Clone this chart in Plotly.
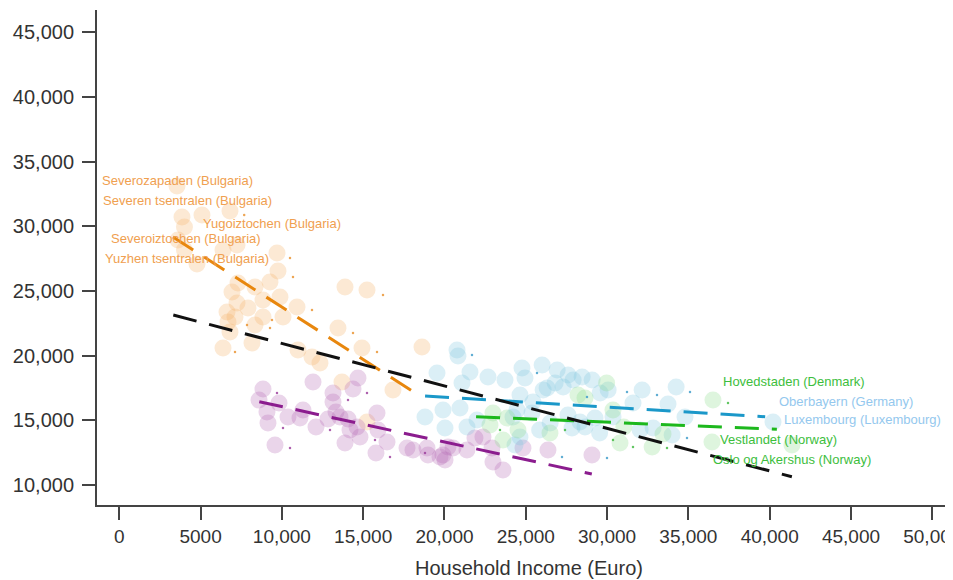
import plotly.graph_objects as go

# ---------------- data (Euro household income vs. value) ----------------
bg_income = [3549, 3856, 4009, 5086, 6808, 3610, 4009, 4779, 6378, 7239, 9699, 9760, 9268, 7300,
             8346, 13881, 15234, 6931, 9883, 8838, 7239, 7915, 10929, 6624, 7116, 8838, 10068, 8346,
             6685, 6808, 13450, 8161, 6378, 10990, 14926, 11851, 12343, 18616, 13696, 16832, 15234]
bg_value = [33113, 30716, 29943, 30871, 31180, 28939, 28166, 27083, 28166, 28552, 27934, 26542, 25692,
            25615, 25305, 25305, 25074, 24919, 24532, 24301, 24069, 23682, 23759, 23373, 22986, 22986,
            22986, 22368, 22600, 21827, 22136, 20977, 20590, 20436, 20590, 19894, 19431, 20667, 17962,
            17344, 14870]

pu_income = [8838, 8593, 9822, 9083, 9145, 10375, 11297, 11113, 9576, 11913, 12097, 13143, 13143, 14680,
             14373, 13327, 12835, 13573, 14065, 14188, 13881, 14803, 14619, 15849, 15910, 16464, 15787,
             17694, 18063, 18985, 19723, 20031, 20523, 18924, 19907, 21383, 21875, 22367, 22920, 22982,
             23597, 24827, 26364, 29070, 20215]
pu_value = [17421, 16571, 16339, 15643, 14793, 15256, 15798, 15179, 13092, 17962, 14483, 17112, 16416,
            18271, 17421, 15643, 15102, 15256, 15102, 14252, 13247, 13710, 14483, 15566, 14252, 13324,
            12474, 12860, 12706, 12319, 12164, 11933, 12860, 12860, 12319, 12706, 13633, 13710, 12860,
            11778, 11160, 12860, 12706, 12319, 12937]

bl_income = [20769, 20830, 19539, 21568, 21076, 22675, 23721, 24766, 24950, 26006, 26929, 27605, 27913,
             28466, 29081, 26314, 26806, 27298, 30065, 29573, 32156, 34247, 18801, 19908, 20954, 20031,
             21384, 21999, 24643, 25442, 24458, 25381, 28333, 27595, 27841, 28641, 29256, 30363, 31593,
             33745, 34791, 32033, 34001, 25852, 29542, 24335, 26068, 32833, 26499, 24643, 24213, 40204]
bl_value = [20436, 19972, 18658, 18735, 17885, 18348, 18117, 19044, 18271, 19276, 18890, 18503, 18117,
            18348, 18117, 17498, 17885, 17575, 17344, 17112, 17344, 17575, 15256, 15798, 15952, 14406,
            14483, 15025, 16957, 16416, 15798, 15566, 14870, 15411, 14406, 14483, 15179, 15256, 16339,
            16261, 15256, 14252, 13865, 14252, 14020, 13092, 17344, 14406, 14793, 13710, 15256, 14870]

gr_income = [29971, 28641, 28210, 30363, 22983, 22798, 23844, 24520, 23598, 26488, 30793, 32772, 33438,
             31029, 36512, 36451, 41370]
gr_value = [17885, 16725, 16957, 15798, 15566, 14638, 15179, 14252, 13479, 14020, 13247, 12937, 13942,
            14483, 16571, 13324, 13092]

# small jitter dots
bg_dot_x = [7682, 10498, 10683, 16218, 14373, 15849, 7854, 9391, 7116, 11851, 9268]
bg_dot_y = [30871, 27547, 26078, 24687, 21750, 20281, 22368, 22755, 20281, 23528, 22136]
pu_dot_x = [9699, 10068, 10498, 12958, 14065, 15234, 16648, 18801, 15726]
pu_dot_y = [17112, 14406, 12860, 14252, 16571, 17112, 12164, 12474, 13479]
bl_dot_x = [21691, 25688, 28763, 31223, 33068, 34913, 27225, 29993, 35097]
bl_dot_y = [20049, 18658, 16802, 17189, 16957, 13633, 12164, 12087, 17189]
gr_dot_x = [23413, 27410, 31593, 30363, 37435, 33684]
gr_dot_y = [14252, 14252, 12937, 13479, 16339, 12860]

# fitted trend lines (start, end)
trend_orange_x = [3303, 18498]
trend_orange_y = [29165, 16878]
trend_black_x = [3322, 41363]
trend_black_y = [23138, 10641]
trend_blue_x = [18806, 39722]
trend_blue_y = [16878, 15278]
trend_green_x = [21943, 40440]
trend_green_y = [15278, 14305]
trend_purple_x = [8612, 29060]
trend_purple_y = [16437, 10850]

# labelled regions: text, x, y, group
label_text = ["Severozapaden (Bulgaria)", "Severen tsentralen (Bulgaria)", "Yugoiztochen (Bulgaria)",
              "Severoiztochen (Bulgaria)", "Yuzhen tsentralen (Bulgaria)", "Hovedstaden (Denmark)",
              "Oberbayern (Germany)", "Luxembourg (Luxembourg)", "Vestlandet (Norway)",
              "Oslo og Akershus (Norway)"]
label_x = [-1200, -1150, 5000, -650, -1030, 36980, 40420, 40730, 36850, 36420]
label_y = [33577, 32031, 30253, 29093, 27547, 18039, 16493, 15025, 13556, 12010]
label_group = ["bg", "bg", "bg", "bg", "bg", "gr", "bl", "bl", "gr", "gr"]

x_tickvals = [0, 5000, 10000, 15000, 20000, 25000, 30000, 35000, 40000, 45000, 50000]
x_ticktext = ["0", "5000", "10,000", "15,000", "20,000", "25,000", "30,000", "35,000", "40,000",
              "45,000", "50,000"]
y_tickvals = [10000, 15000, 20000, 25000, 30000, 35000, 40000, 45000]
y_ticktext = ["10,000", "15,000", "20,000", "25,000", "30,000", "35,000", "40,000", "45,000"]

# ---------------- styling ----------------
circle_col = {"bg": "#F4B066", "pu": "#B468B4", "bl": "#7CC4E0", "gr": "#8ADC8A"}
dot_col = {"bg": "#E8902A", "pu": "#9A3A9A", "bl": "#3A9AC8", "gr": "#3CB83C"}
label_col = {"bg": "#F0A050", "gr": "#3DBE3D", "bl": "#94C8EE"}
FONT = "Liberation Sans, Arial, sans-serif"

fig = go.Figure()

groups = [("bg", bg_income, bg_value, bg_dot_x, bg_dot_y),
          ("pu", pu_income, pu_value, pu_dot_x, pu_dot_y),
          ("bl", bl_income, bl_value, bl_dot_x, bl_dot_y),
          ("gr", gr_income, gr_value, gr_dot_x, gr_dot_y)]

for g, xs, ys, dx, dy in groups:
    fig.add_trace(go.Scatter(x=xs, y=ys, mode="markers",
                             marker=dict(size=17, color=circle_col[g], opacity=0.28,
                                         line=dict(width=0)),
                             showlegend=False, hoverinfo="skip"))
for g, xs, ys, dx, dy in groups:
    fig.add_trace(go.Scatter(x=dx, y=dy, mode="markers",
                             marker=dict(size=2.5, color=dot_col[g], opacity=0.8,
                                         line=dict(width=0)),
                             showlegend=False, hoverinfo="skip"))

lines = [(trend_orange_x, trend_orange_y, "#E8870E"),
         (trend_purple_x, trend_purple_y, "#8B1C8E"),
         (trend_blue_x, trend_blue_y, "#1B98C9"),
         (trend_green_x, trend_green_y, "#1DB81D"),
         (trend_black_x, trend_black_y, "#111111")]
for lx, ly, c in lines:
    fig.add_trace(go.Scatter(x=lx, y=ly, mode="lines",
                             line=dict(color=c, width=3, dash="24px,13px"),
                             showlegend=False, hoverinfo="skip"))

for t, x, y, g in zip(label_text, label_x, label_y, label_group):
    fig.add_annotation(x=x, y=y, xref="x", yref="y", text=t, showarrow=False,
                       xanchor="left", yanchor="middle",
                       font=dict(family=FONT, size=13, color=label_col[g]))

# the page shows the figure with an 8px body margin, so margins are reduced by 8px
fig.update_layout(
    width=953, height=580,
    margin=dict(l=89, r=0, t=2, b=83),
    paper_bgcolor="white", plot_bgcolor="white",
    font=dict(family=FONT, color="#333333"),
    showlegend=False,
)
fig.update_xaxes(range=[-1370, 51765], tickvals=x_tickvals, ticktext=x_ticktext,
                 automargin=False, ticklabeloverflow="allow",
                 showgrid=False, zeroline=False, showline=True, linecolor="#444444", linewidth=2,
                 ticks="outside", ticklen=13, tickwidth=1.5, tickcolor="#444444",
                 tickfont=dict(family=FONT, size=19, color="#333333"),
                 title=dict(text="Household Income (Euro)", standoff=15,
                            font=dict(family=FONT, size=20, color="#333333")))
fig.update_yaxes(range=[8454, 46718], tickvals=y_tickvals, ticktext=y_ticktext,
                 automargin=False,
                 showgrid=False, zeroline=False, showline=True, linecolor="#444444", linewidth=2,
                 ticks="outside", ticklen=13, tickwidth=1.5, tickcolor="#444444",
                 ticklabelstandoff=4,
                 tickfont=dict(family=FONT, size=20, color="#333333"))

fig.write_html("out.html")
